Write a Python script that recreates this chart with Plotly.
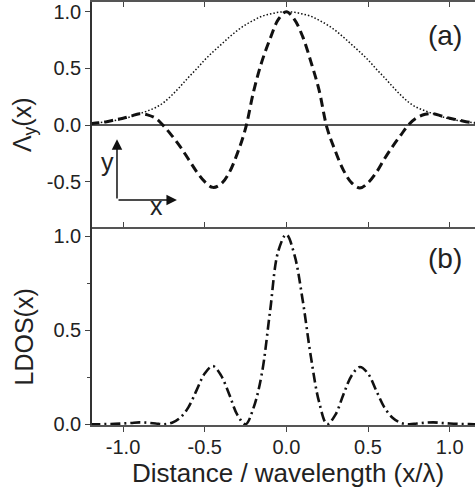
import plotly.graph_objects as go

# sample positions (x / wavelength)
x_pos = [-1.20, -1.15, -1.10, -1.05, -1.00, -0.95, -0.90, -0.85, -0.80, -0.75,
         -0.70, -0.65, -0.60, -0.55, -0.50, -0.45, -0.40, -0.35, -0.30, -0.25,
         -0.20, -0.15, -0.10, -0.05, 0.00, 0.05, 0.10, 0.15, 0.20, 0.25,
         0.30, 0.35, 0.40, 0.45, 0.50, 0.55, 0.60, 0.65, 0.70, 0.75,
         0.80, 0.85, 0.90, 0.95, 1.00, 1.05, 1.10, 1.15, 1.20]

# dotted envelope (panel a)
envelope = [0.012, 0.02, 0.03, 0.04, 0.055, 0.075, 0.10, 0.125, 0.155, 0.20,
            0.265, 0.34, 0.42, 0.495, 0.575, 0.645, 0.71, 0.775, 0.835, 0.885,
            0.925, 0.96, 0.98, 0.995, 1.00, 0.995, 0.98, 0.96, 0.925, 0.885,
            0.835, 0.775, 0.71, 0.645, 0.575, 0.495, 0.42, 0.34, 0.265, 0.20,
            0.155, 0.125, 0.10, 0.075, 0.055, 0.04, 0.03, 0.02, 0.012]

# dashed Lambda_y(x) (panel a)
lambda_y = [0.012, 0.02, 0.03, 0.045, 0.06, 0.08, 0.10, 0.09, 0.06, -0.01,
            -0.095, -0.19, -0.30, -0.41, -0.50, -0.55, -0.52, -0.42, -0.25, -0.03,
            0.30, 0.56, 0.76, 0.93, 1.00, 0.93, 0.78, 0.56, 0.31, -0.03,
            -0.23, -0.40, -0.51, -0.555, -0.51, -0.42, -0.30, -0.19, -0.09, 0.005,
            0.065, 0.095, 0.10, 0.08, 0.06, 0.045, 0.03, 0.02, 0.012]

# dash-dot LDOS(x) (panel b)
ldos = [0.0, 0.0, 0.001, 0.002, 0.004, 0.007, 0.01, 0.008, 0.004, 0.0,
        0.008, 0.035, 0.09, 0.18, 0.27, 0.31, 0.26, 0.16, 0.05, 0.0,
        0.09, 0.27, 0.60, 0.92, 1.01, 0.90, 0.66, 0.36, 0.12, 0.0,
        0.05, 0.16, 0.26, 0.305, 0.27, 0.18, 0.09, 0.035, 0.008, 0.0,
        0.004, 0.008, 0.01, 0.007, 0.004, 0.002, 0.001, 0.0, 0.0]

x_ticks = [-1.0, -0.5, 0.0, 0.5, 1.0]
x_ticktext = ["-1.0", "-0.5", "0.0", "0.5", "1.0"]
ya_ticks = [-0.5, 0.0, 0.5, 1.0]
ya_ticktext = ["-0.5", "0.0", "0.5", "1.0"]
yb_ticks = [0.0, 0.5, 1.0]
yb_ticktext = ["0.0", "0.5", "1.0"]
yb_minor = [0.25, 0.75]

FONT = "Liberation Sans, Arial, Helvetica, sans-serif"
TXT = "#222222"
XR = [-1.19, 1.155]

fig = go.Figure()
fig.add_trace(go.Scatter(x=x_pos, y=envelope, mode="lines", xaxis="x", yaxis="y",
                         line=dict(color="#111", width=1.5, dash="1.5px,2px", shape="spline"),
                         showlegend=False, hoverinfo="skip"))
fig.add_trace(go.Scatter(x=x_pos, y=lambda_y, mode="lines", xaxis="x", yaxis="y",
                         line=dict(color="#111", width=3, dash="9px,5px", shape="spline"),
                         showlegend=False, hoverinfo="skip"))
fig.add_trace(go.Scatter(x=x_pos, y=ldos, mode="lines", xaxis="x2", yaxis="y2",
                         line=dict(color="#111", width=2.6, dash="10px,4px,2px,4px", shape="spline"),
                         showlegend=False, hoverinfo="skip"))

TICKFONT = dict(family=FONT, size=20, color=TXT)
tick_style = dict(ticklen=5, tickwidth=1.2, tickcolor="#444", tickvals=x_ticks,
                  showgrid=False, zeroline=False)

fig.update_layout(
    width=475, height=493,
    margin=dict(l=92, r=0, t=2, b=68),
    paper_bgcolor="white", plot_bgcolor="white",
    font=dict(family=FONT, color=TXT),
    # panel (a): frame line top + divider, inside ticks
    xaxis=dict(domain=[0, 1], range=XR, anchor="y", showline=True, linecolor="#555",
               linewidth=1.6, mirror="ticks", ticks="inside", showticklabels=False,
               **tick_style),
    # panel (b): bottom axis with labels
    xaxis2=dict(domain=[0, 1], range=XR, anchor="y2", showline=True, linecolor="#555",
                linewidth=1.5, mirror=False, ticks="outside", ticktext=x_ticktext,
                tickfont=TICKFONT, ticklabelstandoff=-2, **tick_style),
    # ticks hanging down from the divider into panel (b)
    xaxis3=dict(range=XR, overlaying="x2", anchor="y2", side="top", showline=False,
                ticks="inside", showticklabels=False, **tick_style),
    yaxis=dict(domain=[0.468, 1], range=[-0.90, 1.086], anchor="x", showline=True,
               linecolor="#333", linewidth=1.5, ticks="outside", ticklen=5, tickwidth=1.2,
               tickcolor="#444", tickvals=ya_ticks, ticktext=ya_ticktext,
               showgrid=False, zeroline=True, zerolinecolor="#555", zerolinewidth=1.5,
               tickfont=TICKFONT),
    yaxis2=dict(domain=[0, 0.468], range=[-0.004, 1.05], anchor="x2", showline=True,
                linecolor="#333", linewidth=1.5, ticks="outside", ticklen=5, tickwidth=1.2,
                tickcolor="#444", tickvals=yb_ticks, ticktext=yb_ticktext, tickfont=TICKFONT,
                minor=dict(tickvals=yb_minor, ticks="outside", ticklen=3, tickcolor="#444"),
                showgrid=False, zeroline=False),
)

ann = []
# axis titles
ann.append(dict(text="Λ<sub>y</sub>(x)", xref="paper", yref="paper", x=-0.1775, y=0.709,
                textangle=-90, showarrow=False, xanchor="center", yanchor="middle",
                font=dict(family=FONT, size=25, color=TXT)))
ann.append(dict(text="LDOS(x)", xref="paper", yref="paper", x=-0.1775, y=0.2069,
                textangle=-90, showarrow=False, xanchor="center", yanchor="middle",
                font=dict(family=FONT, size=25, color=TXT)))
ann.append(dict(text="Distance / wavelength (x/λ)", xref="paper", yref="paper", x=0.5125,
                y=-0.113, showarrow=False, xanchor="center", yanchor="middle",
                font=dict(family=FONT, size=26, color=TXT)))
# panel labels
ann.append(dict(text="(a)", xref="x", yref="y", x=0.969, y=0.794, showarrow=False,
                xanchor="center", yanchor="middle", font=dict(family=FONT, size=28, color=TXT)))
ann.append(dict(text="(b)", xref="x2", yref="y2", x=0.974, y=0.88, showarrow=False,
                xanchor="center", yanchor="middle", font=dict(family=FONT, size=28, color=TXT)))
# coordinate arrows
ann.append(dict(x=-1.037, y=-0.126, ax=-1.037, ay=-0.662, xref="x", yref="y", axref="x",
                ayref="y", showarrow=True, arrowhead=2, arrowsize=1.4, arrowwidth=1.5,
                arrowcolor="#111", text=""))
ann.append(dict(x=-0.670, y=-0.662, ax=-1.037, ay=-0.662, xref="x", yref="y", axref="x",
                ayref="y", showarrow=True, arrowhead=2, arrowsize=1.4, arrowwidth=1.5,
                arrowcolor="#111", text=""))
ann.append(dict(text="y", xref="x", yref="y", x=-1.094, y=-0.327, showarrow=False,
                xanchor="center", yanchor="middle", font=dict(family=FONT, size=25, color=TXT)))
ann.append(dict(text="x", xref="x", yref="y", x=-0.794, y=-0.715, showarrow=False,
                xanchor="center", yanchor="middle", font=dict(family=FONT, size=25, color=TXT)))
fig.update_layout(annotations=ann)

fig.write_html("out.html", config={"displayModeBar": False},
               post_script="document.body.style.margin='0px';document.body.style.overflow='hidden';")
